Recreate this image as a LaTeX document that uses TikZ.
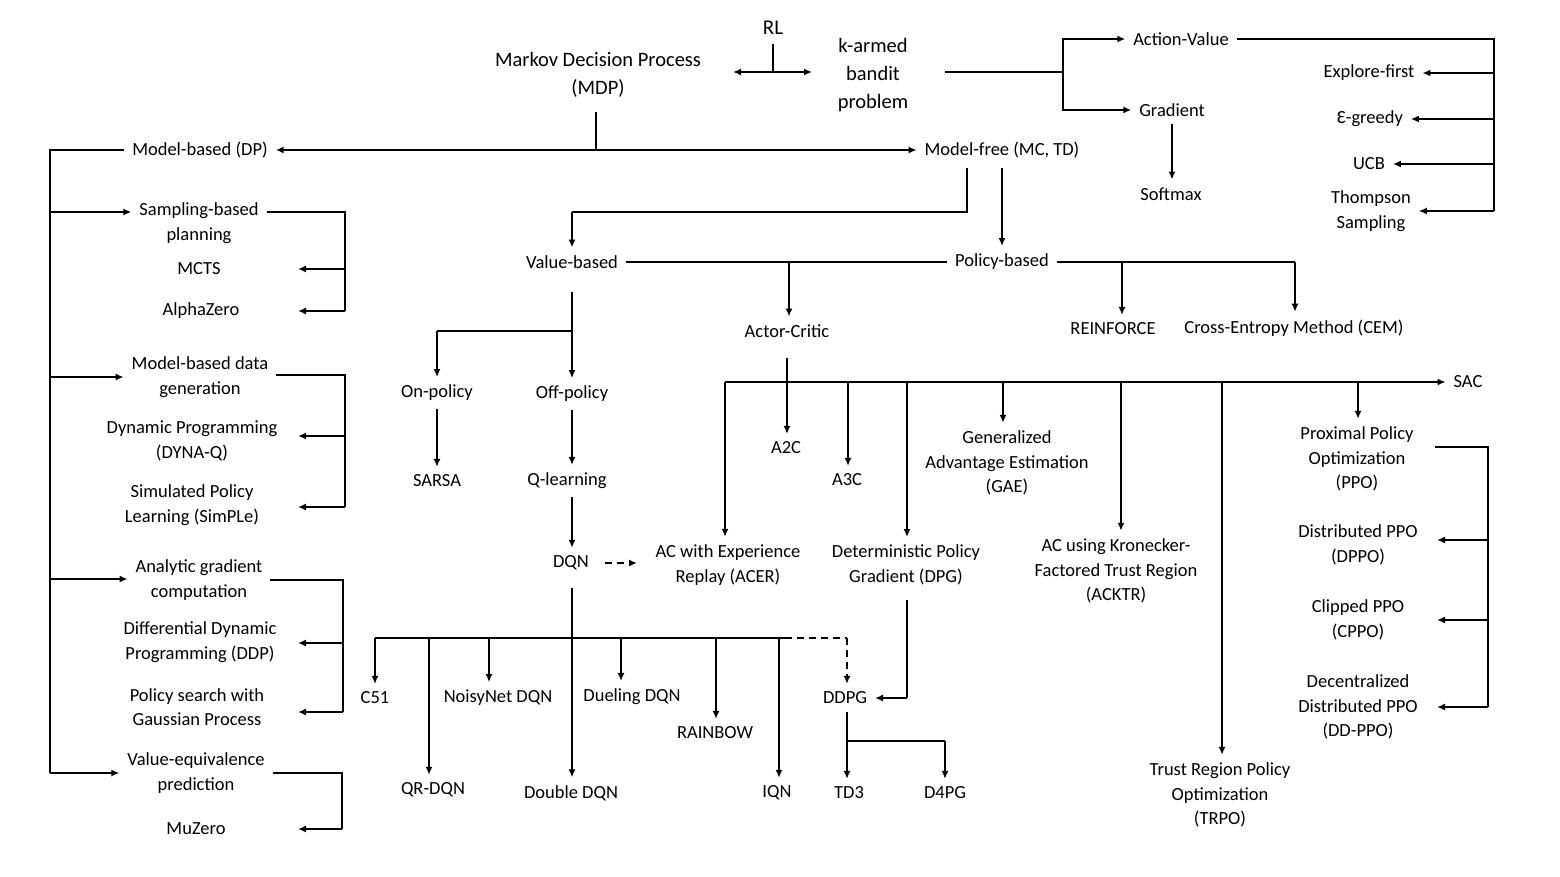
\documentclass[tikz,border=0pt]{standalone}
\usepackage{fontspec}
\setmainfont{Carlito}
\usetikzlibrary{arrows.meta}
\begin{document}
\begin{tikzpicture}[x=1pt,y=-1pt,
  n/.style={align=center,inner sep=1pt,outer sep=7pt,font=\fontsize{18.5}{24.5}\selectfont},
  l/.style={line width=1.6pt},
  a/.style={l,-{Latex[length=8pt,width=7pt]}},
  da/.style={a,dashed,dash pattern=on 7pt off 5pt},
  dl/.style={l,dashed,dash pattern=on 7pt off 5pt}]
\useasboundingbox[fill=white] (0,0) rectangle (1560,877);
\node[n,font=\fontsize{21}{28}\selectfont] (rl) at (773,28) {RL};
\node[n,font=\fontsize{20.5}{28}\selectfont] (mdp) at (598,75) {Markov Decision Process\\(MDP)};
\node[n,font=\fontsize{20.5}{28}\selectfont] (kab) at (873,75) {k-armed\\bandit\\problem};
\node[n] (av) at (1181,39) {Action-Value};
\node[n] (gr) at (1172,110) {Gradient};
\node[n] (sm) at (1171,194) {Softmax};
\node[n] (ef) at (1369,73) {Explore-first};
\node[n] (eg) at (1370,119) {Ɛ-greedy};
\node[n] (ucb) at (1369,164) {UCB};
\node[n] (ts) at (1371,211) {Thompson\\Sampling};
\node[n] (mb) at (200,150) {Model-based (DP)};
\node[n] (mf) at (1002,150) {Model-free (MC, TD)};
\node[n] (sbp) at (199,223) {Sampling-based\\planning};
\node[n] (mcts) at (199,269) {MCTS};
\node[n] (az) at (201,311) {AlphaZero};
\node[n] (mbd) at (200,377) {Model-based data\\generation};
\node[n] (dyna) at (192,441) {Dynamic Programming\\(DYNA-Q)};
\node[n] (simple) at (192,505) {Simulated Policy\\Learning (SimPLe)};
\node[n] (agc) at (199,580) {Analytic gradient\\computation};
\node[n] (ddp) at (200,642) {Differential Dynamic\\Programming (DDP)};
\node[n] (psg) at (197,707) {Policy search with\\Gaussian Process};
\node[n] (vep) at (196,773) {Value-equivalence\\prediction};
\node[n] (mz) at (196,829) {MuZero};
\node[n] (vb) at (572,262) {Value-based};
\node[n] (pb) at (1002,262) {Policy-based};
\node[n] (ac) at (787,331) {Actor-Critic};
\node[n] (rf) at (1113,329) {REINFORCE};
\node[n] (cem) at (1294,328) {Cross-Entropy Method (CEM)};
\node[n] (onp) at (437,393) {On-policy};
\node[n] (offp) at (572,394) {Off-policy};
\node[n] (sarsa) at (437,481) {SARSA};
\node[n] (ql) at (567,481) {Q-learning};
\node[n] (dqn) at (571,563) {DQN};
\node[n] (sac) at (1468,382) {SAC};
\node[n] (a2c) at (786,448) {A2C};
\node[n] (a3c) at (847,480) {A3C};
\node[n] (gae) at (1007,463) {Generalized\\Advantage Estimation\\(GAE)};
\node[n] (ppo) at (1357,459) {Proximal Policy\\Optimization\\(PPO)};
\node[n] (acer) at (728,565) {AC with Experience\\Replay (ACER)};
\node[n] (dpg) at (906,565) {Deterministic Policy\\Gradient (DPG)};
\node[n] (acktr) at (1116,571) {AC using Kronecker-\\Factored Trust Region\\(ACKTR)};
\node[n] (dppo) at (1358,545) {Distributed PPO\\(DPPO)};
\node[n] (cppo) at (1358,620) {Clipped PPO\\(CPPO)};
\node[n] (ddppo) at (1358,707) {Decentralized\\Distributed PPO\\(DD-PPO)};
\node[n] (trpo) at (1220,795) {Trust Region Policy\\Optimization\\(TRPO)};
\node[n] (c51) at (375,698) {C51};
\node[n] (noisy) at (498,698) {NoisyNet DQN};
\node[n] (duel) at (632,697) {Dueling DQN};
\node[n] (rain) at (715,733) {RAINBOW};
\node[n] (ddpg) at (845,698) {DDPG};
\node[n] (qr) at (433,790) {QR-DQN};
\node[n] (ddqn) at (571,793) {Double DQN};
\node[n] (iqn) at (777,793) {IQN};
\node[n] (td3) at (849,793) {TD3};
\node[n] (d4pg) at (945,793) {D4PG};
% top
\draw[l] (773,44) -- (773,72);
\draw[l,{Latex[length=8pt,width=7pt]}-{Latex[length=8pt,width=7pt]}] (733,72) -- (812,72);
\draw[l] (945,72) -- (1063,72);
\draw[a] (1063,72) |- (av.west);
\draw[a] (1063,72) |- (gr.west);
\draw[a] (gr.south) -- (gr.south |- sm.north);
\draw[l] (av.east) -- (1494,39) -- (1494,211);
\foreach \t in {ef,eg,ucb,ts} \draw[a] (1494,0 |- \t) -- (\t.east);
% MDP
\draw[l] (596,112) -- (596,150);
\draw[l,{Latex[length=8pt,width=7pt]}-{Latex[length=8pt,width=7pt]}] (mb.east) -- (mf.west);
% left bus
\draw[l] (mb.west) -- (50,150) -- (50,773);
\draw[a] (50,212) -- (sbp.west |- 0,212);
\draw[a] (50,377) -- (mbd.west |- 0,377);
\draw[a] (50,579) -- (agc.west |- 0,579);
\draw[a] (50,773) -- (vep.west |- 0,773);
\draw[l] (sbp.east |- 0,212) -- (345,212) -- (345,311);
\draw[a] (345,269) -- (298,269);
\draw[a] (345,311) -- (298,311);
\draw[l] (mbd.east |- 0,375) -- (345,375) -- (345,507);
\draw[a] (345,436) -- (298,436);
\draw[a] (345,507) -- (298,507);
\draw[l] (agc.east |- 0,580) -- (343,580) -- (343,712);
\draw[a] (343,643) -- (298,643);
\draw[a] (343,712) -- (298,712);
\draw[l] (vep.east |- 0,773) -- (342,773) -- (342,829);
\draw[a] (342,829) -- (298,829);
% model-free
\draw[l] (967,168) -- (967,212) -- (572,212);
\draw[a] (572,212) -- (vb.north);
\draw[a] (1002,168) -- (pb.north);
\draw[l] (vb.east) -- (pb.west);
\draw[a] (789,262) -- (ac.north -| 789,0);
\draw[l] (pb.east) -- (1295,262);
\draw[a] (1122,262) -- (1122,0 |- rf.north);
\draw[a] (1295,262) -- (1295,0 |- cem.north);
% value-based
\draw[l] (572,292) -- (572,331) -- (437,331);
\draw[a] (572,331) -- (offp.north);
\draw[a] (437,331) -- (onp.north);
\draw[a] (onp.south) -- (sarsa.north);
\draw[a] (572,0 |- offp.south) -- (572,0 |- ql.north);
\draw[a] (572,0 |- ql.south) -- (572,0 |- dqn.north);
\draw[da] (605,563) -- (637,563);
% DQN bus
\draw[l] (572,588) -- (572,638);
\draw[l] (375,638) -- (785,638);
\draw[dl] (785,638) -- (847,638);
\draw[da] (847,638) -- (847,0 |- ddpg.north);
\draw[a] (375,638) -- (c51.north);
\draw[a] (429,638) -- (429,0 |- qr.north);
\draw[a] (489,638) -- (489,0 |- noisy.north);
\draw[a] (572,638) -- (ddqn.north -| 572,0);
\draw[a] (621,638) -- (621,0 |- duel.north);
\draw[a] (716,638) -- (716,0 |- rain.north);
\draw[a] (779,638) -- (779,0 |- iqn.north);
\draw[l] (907,600) -- (907,698);
\draw[a] (907,698) -- (ddpg.east);
\draw[a] (847,0 |- ddpg.south) -- (847,0 |- td3.north);
\draw[l] (847,741) -- (945,741);
\draw[a] (945,741) -- (d4pg.north);
% actor-critic
\draw[a] (787,358) -- (787,0 |- a2c.north);
\draw[a] (725,382) -- (sac.west);
\draw[a] (725,382) -- (725,0 |- acer.north);
\draw[a] (848,382) -- (848,0 |- a3c.north);
\draw[a] (907,382) -- (907,0 |- dpg.north);
\draw[a] (1003,382) -- (1003,0 |- gae.north);
\draw[a] (1121,382) -- (1121,0 |- acktr.north);
\draw[a] (1222,382) -- (1222,0 |- trpo.north);
\draw[a] (1358,382) -- (1358,0 |- ppo.north);
\draw[l] (1435,447) -- (1488,447) -- (1488,707);
\draw[a] (1488,540) -- (1437,540);
\draw[a] (1488,620) -- (1437,620);
\draw[a] (1488,707) -- (1437,707);
\end{tikzpicture}
\end{document}
